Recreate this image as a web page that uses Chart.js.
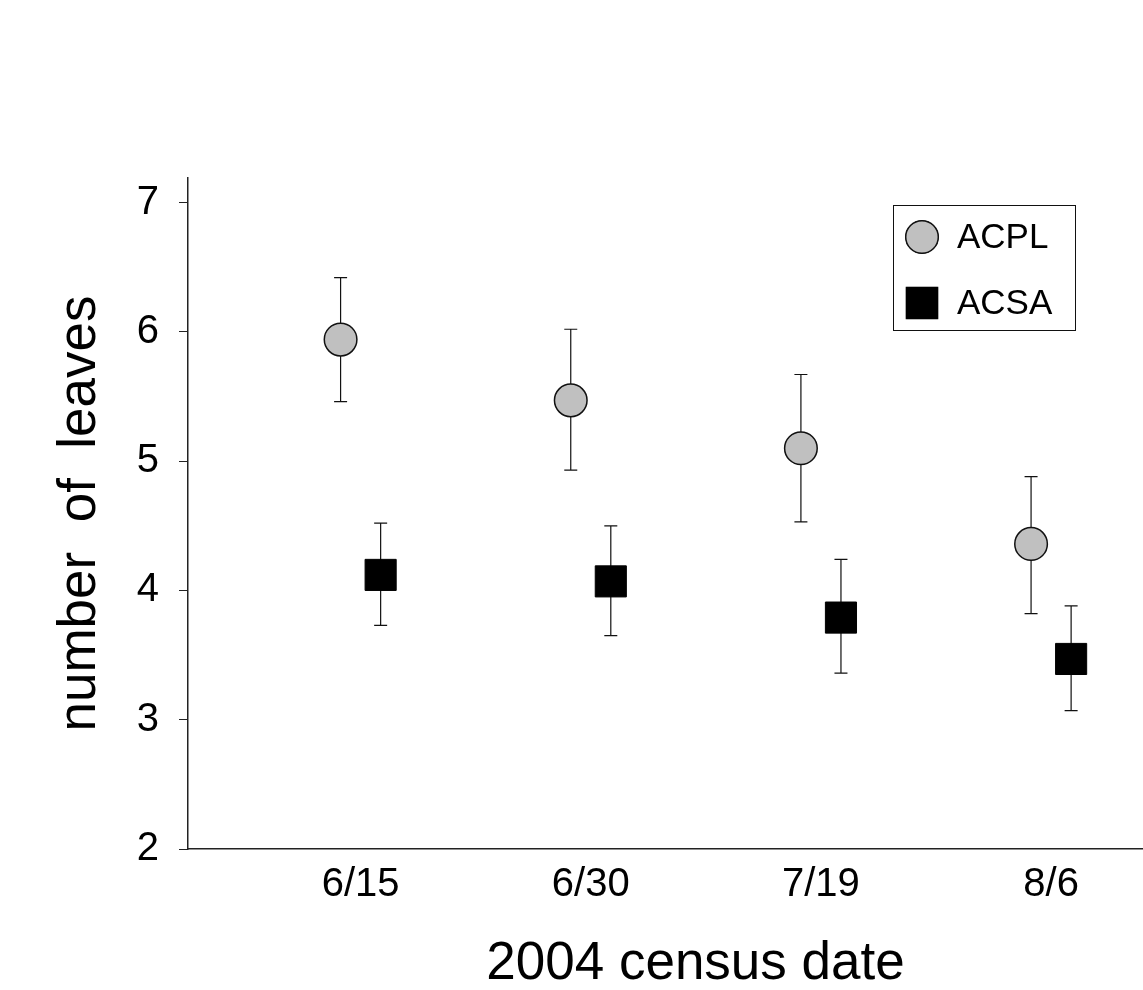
<!DOCTYPE html>
<html>
<head>
<meta charset="utf-8">
<script src="https://cdn.jsdelivr.net/npm/chart.js@4/dist/chart.umd.min.js"></script>
<style>
  html, body { margin: 0; padding: 0; background: #fff; overflow: hidden; }
  #graphique { display: block; }
</style>
</head>
<body>
<canvas id="graphique" width="1226" height="990"></canvas>
<script>
/* nombre de feuilles par date de recensement 2004 */

const dates = ["6/15", "6/30", "7/19", "8/6"];
const acplMoy = [5.94, 5.47, 5.10, 4.36];
const acplHaut = [6.42, 6.02, 5.67, 4.88];
const acplBas = [5.46, 4.93, 4.53, 3.82];
const acsaMoy = [4.12, 4.07, 3.79, 3.47];
const acsaHaut = [4.52, 4.50, 4.24, 3.88];
const acsaBas = [3.73, 3.65, 3.36, 3.07];
const yTicks = [2, 3, 4, 5, 6, 7];
const decalage = 0.087; // décalage des deux espèces autour de chaque date

function points(moy, sens) {
  return moy.map(function(v, i) { return { x: i + 1 + sens * decalage, y: v }; });
}

const police = "Arial, 'Liberation Sans', sans-serif";

const barresErreur = {
  id: "barresErreur",
  beforeDatasetsDraw: function(chart) {
    const ctx = chart.ctx;
    const sx = chart.scales.x, sy = chart.scales.y;
    ctx.save();
    ctx.strokeStyle = "#111";
    ctx.lineWidth = 1.2;
    chart.data.datasets.forEach(function(ds) {
      ds.data.forEach(function(p, i) {
        const x = sx.getPixelForValue(p.x);
        const yh = sy.getPixelForValue(ds.haut[i]);
        const yb = sy.getPixelForValue(ds.bas[i]);
        ctx.beginPath();
        ctx.moveTo(x, yh); ctx.lineTo(x, yb);
        ctx.moveTo(x - 6.5, yh); ctx.lineTo(x + 6.5, yh);
        ctx.moveTo(x - 6.5, yb); ctx.lineTo(x + 6.5, yb);
        ctx.stroke();
      });
    });
    ctx.restore();
  }
};

const legendeCadre = {
  id: "legendeCadre",
  afterDraw: function(chart) {
    const ctx = chart.ctx;
    const box = { x: 893, y: 205, w: 182, h: 125 };
    ctx.save();
    ctx.strokeStyle = "#111";
    ctx.lineWidth = 1;
    ctx.strokeRect(box.x + 0.5, box.y + 0.5, box.w, box.h);
    ctx.font = "35px " + police;
    ctx.fillStyle = "#000";
    ctx.textBaseline = "middle";
    chart.data.datasets.forEach(function(ds, i) {
      const cy = box.y + 32 + i * 66;
      const cx = box.x + 29;
      Chart.helpers.drawPoint(ctx, {
        pointStyle: ds.pointStyle,
        radius: ds.pointRadius,
        borderWidth: ds.borderWidth
      }, cx, cy);
      ctx.fillStyle = ds.backgroundColor;
      ctx.strokeStyle = ds.borderColor;
      ctx.lineWidth = ds.borderWidth;
      ctx.fill();
      ctx.stroke();
      ctx.fillStyle = "#000";
      ctx.fillText(ds.label, box.x + 64, cy + 1);
    });
    ctx.restore();
  }
};

new Chart(document.getElementById("graphique").getContext("2d"), {
  type: "scatter",
  data: {
    datasets: [{
      label: "ACPL",
      data: points(acplMoy, -1),
      haut: acplHaut,
      bas: acplBas,
      pointStyle: "circle",
      pointRadius: 16.3,
      pointHoverRadius: 16.3,
      backgroundColor: "#c0c0c0",
      borderColor: "#111",
      borderWidth: 1.5
    }, {
      label: "ACSA",
      data: points(acsaMoy, 1),
      haut: acsaHaut,
      bas: acsaBas,
      pointStyle: "rect",
      pointRadius: 22,
      pointHoverRadius: 22,
      backgroundColor: "#000",
      borderColor: "#000",
      borderWidth: 1
    }]
  },
  options: {
    responsive: false,
    animation: false,
    layout: { padding: { top: 178, left: 0, right: 0, bottom: 0 } },
    plugins: { legend: { display: false }, tooltip: { enabled: false } },
    scales: {
      x: {
        type: "linear",
        min: 0.25,
        max: 4.66,
        afterFit: function(s) { s.height = 141; s.paddingLeft = 0; s.paddingRight = 0; },
        grid: { display: false, drawTicks: false },
        border: { display: true, color: "#222", width: 1.5 },
        ticks: {
          stepSize: 1,
          includeBounds: false,
          padding: 12,
          color: "#000",
          font: { family: police, size: 40 },
          callback: function(v) { return dates[v - 1] || ""; }
        },
        title: {
          display: true,
          text: "2004 census date",
          color: "#000",
          font: { family: police, size: 53, lineHeight: 0.5 },
          padding: { top: 0, bottom: 12 }
        }
      },
      y: {
        min: 2,
        max: 7.19,
        afterFit: function(s) { s.width = 188; },
        afterBuildTicks: function(s) { s.ticks = yTicks.map(function(v) { return { value: v }; }); },
        grid: { display: true, drawOnChartArea: false, drawTicks: true, tickLength: 9, color: "#222", lineWidth: 1 },
        border: { display: true, color: "#222", width: 1.5 },
        ticks: {
          padding: 20,
          color: "#000",
          font: { family: police, size: 40 }
        },
        title: {
          display: true,
          text: "number  of  leaves",
          color: "#000",
          font: { family: police, size: 53, lineHeight: 1 },
          padding: { top: 54, bottom: 0 }
        }
      }
    }
  },
  plugins: [barresErreur, legendeCadre]
});
</script>
</body>
</html>
